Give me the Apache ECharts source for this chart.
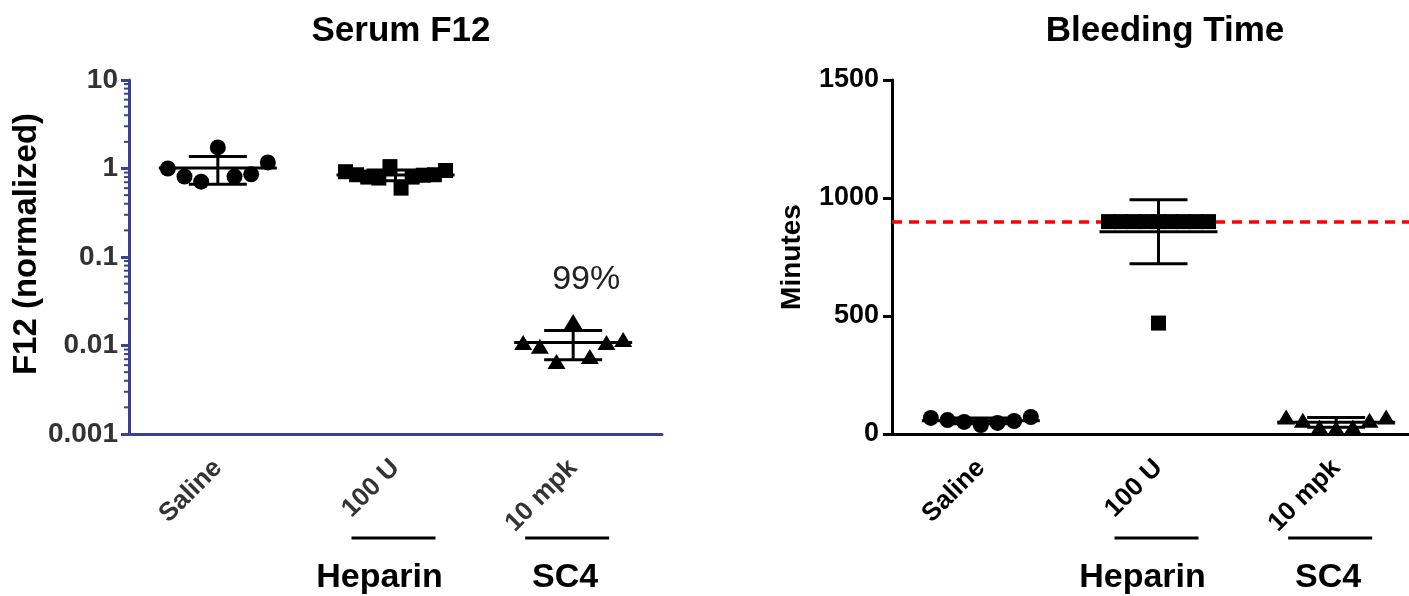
<!DOCTYPE html>
<html><head><meta charset="utf-8">
<script src="https://cdn.jsdelivr.net/npm/echarts@6/dist/echarts.min.js"></script>
<style>html,body{margin:0;padding:0;background:#fff}#c{width:1409px;height:596px}</style>
</head><body><div id="c"></div>
<script>
// ---------- data ----------
const categories = ['Saline', '100 U', '10 mpk'];
const groupLabels = ['Heparin', 'SC4'];            // drawn under categories 1 and 2
// Serum F12 (normalized); points listed left-to-right as plotted
const f12Saline  = [1.0, 0.81, 0.71, 1.73, 0.81, 0.86, 1.17];
const f12Heparin = [0.92, 0.85, 0.80, 0.78, 1.05, 0.60, 0.80, 0.84, 0.85, 0.95];
const f12SC4     = [0.0108, 0.0098, 0.0066, 0.0187, 0.0075, 0.0108, 0.0117];
const f12TickLabels = ['0.001', '0.01', '0.1', '1', '10'];
const f12MinorMultipliers = [2, 3, 4, 5, 6, 7, 8, 9];
const f12Annotation = '99%';
// Bleeding time (minutes)
const btSaline  = [68, 59, 51, 38, 47, 55, 72];
const btHeparin = [900, 900, 900, 900, 900, 470, 900, 900, 900, 900];
const btSC4     = [72, 58, 30, 25, 30, 58, 72];
const btTickLabels = ['0', '500', '1000', '1500'];
const btCutoff = 900;

// ---------- helpers ----------
const SPREAD = 100;       // px width over which a row of points is spread
const ROW_GAP = 30;       // px vertical gap that starts a new row
function mean(a) { return a.reduce((s, v) => s + v, 0) / a.length; }
function sd(a) { const m = mean(a); return Math.sqrt(a.reduce((s, v) => s + (v - m) * (v - m), 0) / (a.length - 1)); }
function renderMeanSD(params, api) {
  const cat = api.value(0), m = api.value(1), s = api.value(2);
  const c = api.coord([cat, m]);
  const t = api.coord([cat, m + s]);
  const b = api.coord([cat, m - s]);
  const x = c[0];
  const st = { stroke: '#000', lineWidth: 3 };
  return { type: 'group', children: [
    { type: 'line', shape: { x1: x - 59, y1: c[1], x2: x + 59, y2: c[1] }, style: st },
    { type: 'line', shape: { x1: x, y1: t[1], x2: x, y2: b[1] }, style: st },
    { type: 'line', shape: { x1: x - 29, y1: t[1], x2: x + 29, y2: t[1] }, style: st },
    { type: 'line', shape: { x1: x - 29, y1: b[1], x2: x + 29, y2: b[1] }, style: st }
  ]};
}
const f12Groups = [f12Saline, f12Heparin, f12SC4];
const btGroups = [btSaline, btHeparin, btSC4];
const symbols = ['circle', 'rect', 'triangle'];
const symbolSizes = [16, 15, [18, 15]];

const BLUE = '#3b4191';
const FONT = 'Liberation Sans, Arial, sans-serif';

// minor tick values for the log axis
const minorTicks = [];
for (let d = 0; d < f12TickLabels.length - 1; d++) {
  const base = parseFloat(f12TickLabels[d]);
  f12MinorMultipliers.forEach(k => minorTicks.push([categories[0], base * k]));
}

const chart = echarts.init(document.getElementById('c'), null, { renderer: 'canvas' });

// horizontal spreading of points: rows of nearby values, each row spread evenly
function spreadOffsets(vals, yAxisIndex) {
  const py = vals.map(v => chart.convertToPixel({ yAxisIndex: yAxisIndex }, v));
  const order = vals.map((_, i) => i).sort((a, b) => py[a] - py[b]);
  const rowOf = [];
  let row = 0;
  order.forEach((idx, k) => { if (k > 0 && py[idx] - py[order[k - 1]] > ROW_GAP) row++; rowOf[idx] = row; });
  const off = [];
  for (let r = 0; r <= row; r++) {
    const members = vals.map((_, i) => i).filter(i => rowOf[i] === r);
    const n = members.length;
    members.forEach((i, j) => { off[i] = n > 1 ? (j / (n - 1) - 0.5) * SPREAD : 0; });
  }
  return off;
}
function pts(cat, vals, yAxisIndex, withOffsets) {
  const off = withOffsets ? spreadOffsets(vals, yAxisIndex) : vals.map(() => 0);
  return vals.map((v, i) => ({ value: [cat, v], symbolOffset: [off[i], 0] }));
}

function buildSeries(withOffsets) {
  const series = [];
  series.push({ type: 'line', xAxisIndex: 1, yAxisIndex: 1, data: [], silent: true, z: 1,
    markLine: { z: 1, silent: true, symbol: ['none', 'none'], label: { show: false }, animation: false,
      lineStyle: { color: '#ff0000', type: [10, 7], width: 3.5 }, data: [{ yAxis: btCutoff }] } });
  f12Groups.forEach((g, i) => {
    series.push({ type: 'scatter', xAxisIndex: 0, yAxisIndex: 0, symbol: symbols[i], symbolSize: symbolSizes[i],
      itemStyle: { color: '#000', opacity: 1 }, data: pts(categories[i], g, 0, withOffsets), z: 6, silent: true });
  });
  series.push({ type: 'custom', xAxisIndex: 0, yAxisIndex: 0, renderItem: renderMeanSD, encode: { x: 0, y: 1 },
    data: f12Groups.map((g, i) => [categories[i], mean(g), sd(g)]), z: 5, silent: true });
  series.push({ type: 'custom', xAxisIndex: 0, yAxisIndex: 0, clip: false, encode: { x: 0, y: 1 }, silent: true,
    renderItem: (params, api) => {
      const p = api.coord([0, api.value(1)]);
      const x0 = params.coordSys.x;
      return { type: 'line', shape: { x1: x0 - 5, y1: p[1], x2: x0, y2: p[1] }, style: { stroke: BLUE, lineWidth: 2 } };
    }, data: minorTicks });
  btGroups.forEach((g, i) => {
    series.push({ type: 'scatter', xAxisIndex: 1, yAxisIndex: 1, symbol: symbols[i], symbolSize: symbolSizes[i],
      itemStyle: { color: '#000', opacity: 1 }, data: pts(categories[i], g, 1, withOffsets), z: 6, silent: true });
  });
  series.push({ type: 'custom', xAxisIndex: 1, yAxisIndex: 1, renderItem: renderMeanSD, encode: { x: 0, y: 1 },
    data: btGroups.map((g, i) => [categories[i], mean(g), sd(g)]), z: 5, silent: true });
  return series;
}

function xAxis(idx, color, labelColor) {
  return { type: 'category', gridIndex: idx, data: categories, boundaryGap: true,
    axisLine: { lineStyle: { color: color, width: 3 } },
    axisTick: { alignWithLabel: true, length: 9, lineStyle: { color: color, width: 3 } },
    axisLabel: { rotate: 45, margin: 30, color: labelColor, fontWeight: 'bold', fontSize: 26, fontFamily: FONT },
    splitLine: { show: false } };
}

chart.setOption({
  animation: false,
  title: [
    { text: 'Serum F12', left: 396, top: 9, textAlign: 'center',
      textStyle: { fontSize: 35, fontWeight: 'bold', color: '#000', fontFamily: FONT } },
    { text: 'Bleeding Time', left: 1160, top: 9, textAlign: 'center',
      textStyle: { fontSize: 35, fontWeight: 'bold', color: '#000', fontFamily: FONT } }
  ],
  grid: [
    { left: 129, top: 80, width: 533, height: 354, outerBoundsMode: 'none', containLabel: false },
    { left: 892, top: 80, width: 533, height: 354, outerBoundsMode: 'none', containLabel: false }
  ],
  xAxis: [xAxis(0, BLUE, '#333'), xAxis(1, '#000', '#000')],
  yAxis: [
    { type: 'log', gridIndex: 0, logBase: 10, min: 0.001, max: 10,
      name: 'F12 (normalized)', nameLocation: 'middle', nameGap: 86,
      nameTextStyle: { fontSize: 33, fontWeight: 'bold', color: '#000', fontFamily: FONT, padding: [0, 0, 0, 26] },
      axisLine: { show: true, lineStyle: { color: BLUE, width: 3 } },
      axisTick: { show: true, length: 8, lineStyle: { color: BLUE, width: 3 } },
      axisLabel: { color: '#333', fontWeight: 'bold', fontSize: 28, margin: 11, fontFamily: FONT,
        formatter: v => f12TickLabels[Math.round(Math.log10(v)) + 3] },
      splitLine: { show: false } },
    { type: 'value', gridIndex: 1, min: 0, max: 1500, interval: 500,
      name: 'Minutes', nameLocation: 'middle', nameGap: 86,
      nameTextStyle: { fontSize: 28, fontWeight: 'bold', color: '#000', fontFamily: FONT },
      axisLine: { show: true, lineStyle: { color: '#000', width: 3 } },
      axisTick: { show: true, length: 9, lineStyle: { color: '#000', width: 3 } },
      axisLabel: { color: '#000', fontWeight: 'bold', fontSize: 27, margin: 13, fontFamily: FONT,
        formatter: v => btTickLabels[btTickLabels.indexOf(String(v))] },
      splitLine: { show: false } }
  ],
  series: buildSeries(false)
});
// second pass: spread the points now that the axes can convert values to pixels
chart.setOption({ series: buildSeries(true) });

// group labels and annotation, positioned from the axes
const graphics = [];
[0, 1].forEach(ax => {
  [1, 2].forEach((ci, k) => {
    const px = chart.convertToPixel({ xAxisIndex: ax }, categories[ci]);
    const lineShift = k === 0 ? -2 : -6;
    const textShift = k === 0 ? -16 : -8;
    graphics.push({ type: 'line', shape: { x1: px + lineShift - 42, y1: 538, x2: px + lineShift + 42, y2: 538 },
      style: { stroke: '#000', lineWidth: 3 } });
    graphics.push({ type: 'text', x: px + textShift, y: 578,
      style: { text: groupLabels[k], fill: '#000', font: 'bold 34px ' + FONT, textAlign: 'center', textVerticalAlign: 'middle' } });
  });
});
const annX = chart.convertToPixel({ xAxisIndex: 0 }, categories[2]);
graphics.push({ type: 'text', x: annX + 13, y: 280,
  style: { text: f12Annotation, fill: '#222', font: '34px ' + FONT, textAlign: 'center', textVerticalAlign: 'middle' } });
chart.setOption({ graphic: graphics });
</script>
</body></html>
